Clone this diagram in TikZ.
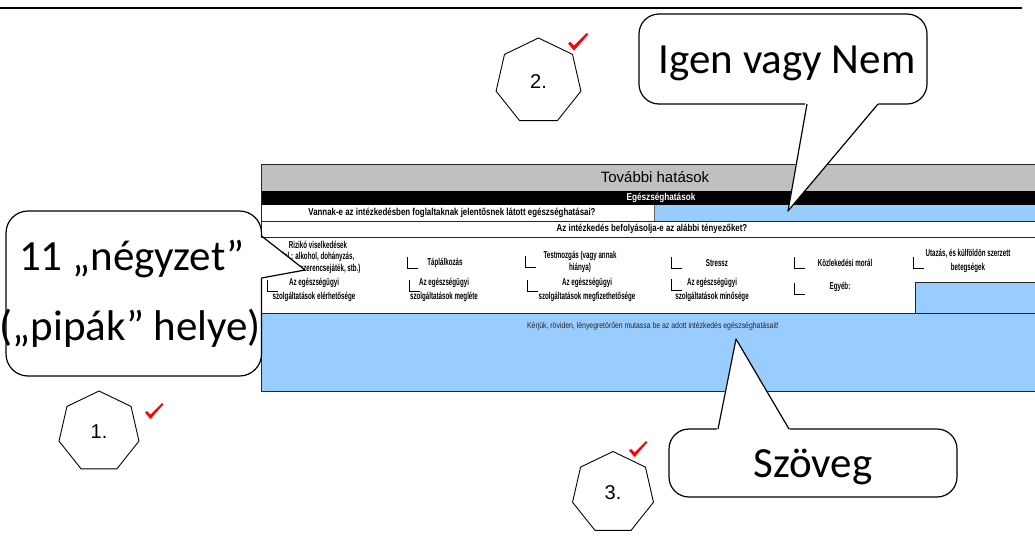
\documentclass[tikz,border=0pt]{standalone}
\usepackage{fontspec}
\usetikzlibrary{shapes.geometric}
\newfontfamily\calib{Carlito}
\newfontfamily\arial{Liberation Sans}
\newfontfamily\cndA[FakeStretch=0.62]{Liberation Sans}
\newfontfamily\cndB[FakeStretch=0.79]{Liberation Sans}
\newfontfamily\cndC[FakeStretch=0.81]{Liberation Sans}
\newfontfamily\cndD[FakeStretch=0.82]{Liberation Sans}
\definecolor{cellblue}{HTML}{99CCFF}
\definecolor{hdrgray}{HTML}{C0C0C0}
\begin{document}
\begin{tikzpicture}[x=1pt,y=-1pt,
  tbl/.style={draw=black!85, line width=0.9pt},
  callbox/.style={draw=black, line width=1.2pt, fill=white, rounded corners=20pt, inner sep=0pt},
  ptr/.style={draw=black, line width=1.2pt, line join=round},
  big/.style={font=\calib\fontsize{43}{43}\selectfont, anchor=base, inner sep=0pt},
  hept/.style={regular polygon, regular polygon sides=7, draw=black, line width=0.9pt, inner sep=0pt, font=\arial\fontsize{20}{20}\selectfont},
  gtxt/.style={font=\cndA\bfseries\fontsize{10}{11.5}\selectfont, align=center, inner sep=0pt},
  gtxtb/.style={font=\cndA\bfseries\fontsize{10}{14}\selectfont, align=center, inner sep=0pt},
  qtxt/.style={font=\cndB\bfseries\fontsize{10}{10}\selectfont, inner sep=0pt},
  cbox/.pic={\draw[line width=0.8pt] (0,-11) -- (0,0) -- (11,0);},
  tick/.pic={\fill[red] (0,9.5) -- (2,8) -- (5.5,11.5) -- (17,0) -- (18.5,1.2) -- (5.5,16) -- cycle;}
]
\useasboundingbox (0,0) rectangle (1035,544);
\clip (0,0) rectangle (1035,544);

% top rule
\draw[line width=1.2pt] (0,8) -- (1022,8);

% ---------- table ----------
\fill[hdrgray] (261,164) rectangle (1040,191);
\fill[black] (261,191) rectangle (1040,205);
\fill[cellblue] (654,205) rectangle (1040,221);
\fill[cellblue] (915,282) rectangle (1040,313);
\fill[cellblue] (261,313) rectangle (1040,391);
\draw[tbl] (1040,164) -- (261,164) -- (261,391) -- (1040,391);
\draw[tbl] (261,221) -- (1040,221);
\draw[tbl] (261,237) -- (1040,237);
\draw[tbl] (261,313) -- (1040,313);
\draw[draw=black!60, line width=0.8pt] (654,205) -- (654,221);
\draw[tbl] (915,313) -- (915,282) -- (1040,282);

\node[font=\arial\fontsize{15}{15}\selectfont, inner sep=0pt] (title) at (655,177.5) {További hatások};
\node[font=\cndD\bfseries\fontsize{10}{10}\selectfont, text=white, inner sep=0pt] (egh) at (661,198) {Egészséghatások};
\node[qtxt] (q1) at (452,213) {Vannak-e az intézkedésben foglaltaknak jelentősnek látott egészséghatásai?};
\node[qtxt] (q2) at (652,229) {Az intézkedés befolyásolja-e az alábbi tényezőket?};

% checkbox row 1
\pic at (265,268) {cbox};
\pic at (407,268) {cbox};
\pic at (525,267) {cbox};
\pic at (671,268) {cbox};
\pic at (794,268) {cbox};
\pic at (913,268) {cbox};
% checkbox row 2
\pic at (267,291) {cbox};
\pic at (409,291) {cbox};
\pic at (527,291) {cbox};
\pic at (671,290) {cbox};
\pic at (794,294) {cbox};

\node[gtxt] (c1) at (318,257) {Rizikó viselkedések\\(pl.: alkohol, dohányzás,\\drogok, szerencsejáték, stb.)};
\node[gtxt] (c2) at (445,263) {Táplálkozás};
\node[gtxt] (c3) at (580,262) {Testmozgás (vagy annak\\hiánya)};
\node[gtxt] (c4) at (717,263) {Stressz};
\node[gtxt] (c5) at (845,263) {Közlekedési morál};
\node[gtxtb] (c6) at (968,261) {Utazás, és külföldön szerzett\\betegségek};
\node[gtxtb] (d1) at (314,290) {Az egészségügyi\\szolgáltatások elérhetősége};
\node[gtxtb] (d2) at (444,290) {Az egészségügyi\\szolgáltatások megléte};
\node[gtxtb] (d3) at (587,290) {Az egészségügyi\\szolgáltatások megfizethetősége};
\node[gtxtb] (d4) at (712,290) {Az egészségügyi\\szolgáltatások minősége};
\node[gtxt] (d5) at (840,287) {Egyéb:};
\node[font=\cndC\fontsize{8.5}{9}\selectfont, text=black!85, inner sep=0pt] (kerjuk) at (653,326) {Kérjük, röviden, lényegretörően mutassa be az adott intézkedés egészséghatásait!};

% ---------- callout: Igen vagy Nem ----------
\node[callbox, minimum width=288pt, minimum height=90pt] (bx1) at (783,59) {};
\coordinate (p1a) at (807,104);
\coordinate (p1b) at (878,104);
\coordinate (p1tip) at (788,211);
\fill[white] (805.5,102) -- (p1tip) -- (879.5,102) -- cycle;
\draw[ptr] (p1a) -- (p1tip) -- (p1b);
\node[big] (t1) at (787,73) {Igen vagy Nem};

% ---------- callout: 11 negyzet ----------
\node[callbox, rounded corners=22pt, minimum width=255.5pt, minimum height=165pt] (bx2) at (133.75,293.5) {};
\coordinate (p2a) at (261.5,236);
\coordinate (p2b) at (261.5,278);
\coordinate (p2tip) at (305,270);
\fill[white] (259,236) -- (p2tip) -- (259,278.5) -- cycle;
\draw[ptr] (p2a) -- (p2tip) -- (p2b);
\node[big] (t2a) at (132,270) {11 „négyzet”};
\node[big] (t2b) at (130.5,340) {(„pipák” helye)};

% ---------- callout: Szoveg ----------
\node[callbox, minimum width=288pt, minimum height=68pt] (bx3) at (813,463) {};
\coordinate (p3a) at (718,429);
\coordinate (p3b) at (789,429);
\coordinate (p3tip) at (736,339);
\fill[white] (716.5,431) -- (p3tip) -- (790.5,431) -- cycle;
\draw[ptr] (p3a) -- (p3tip) -- (p3b);
\node[big] (t3) at (813,477) {Szöveg};

% ---------- heptagons ----------
\node[hept, minimum size=82pt] (h1) at (99,432) {1.};
\node[hept, minimum size=87pt] (h2) at (538.5,81.5) {2.};
\node[hept, minimum size=83pt] (h3) at (613,493) {3.};
\pic at (145,403) {tick};
\pic[scale=1.1] at (568,33) {tick};
\pic at (629,441) {tick};
\end{tikzpicture}
\end{document}
